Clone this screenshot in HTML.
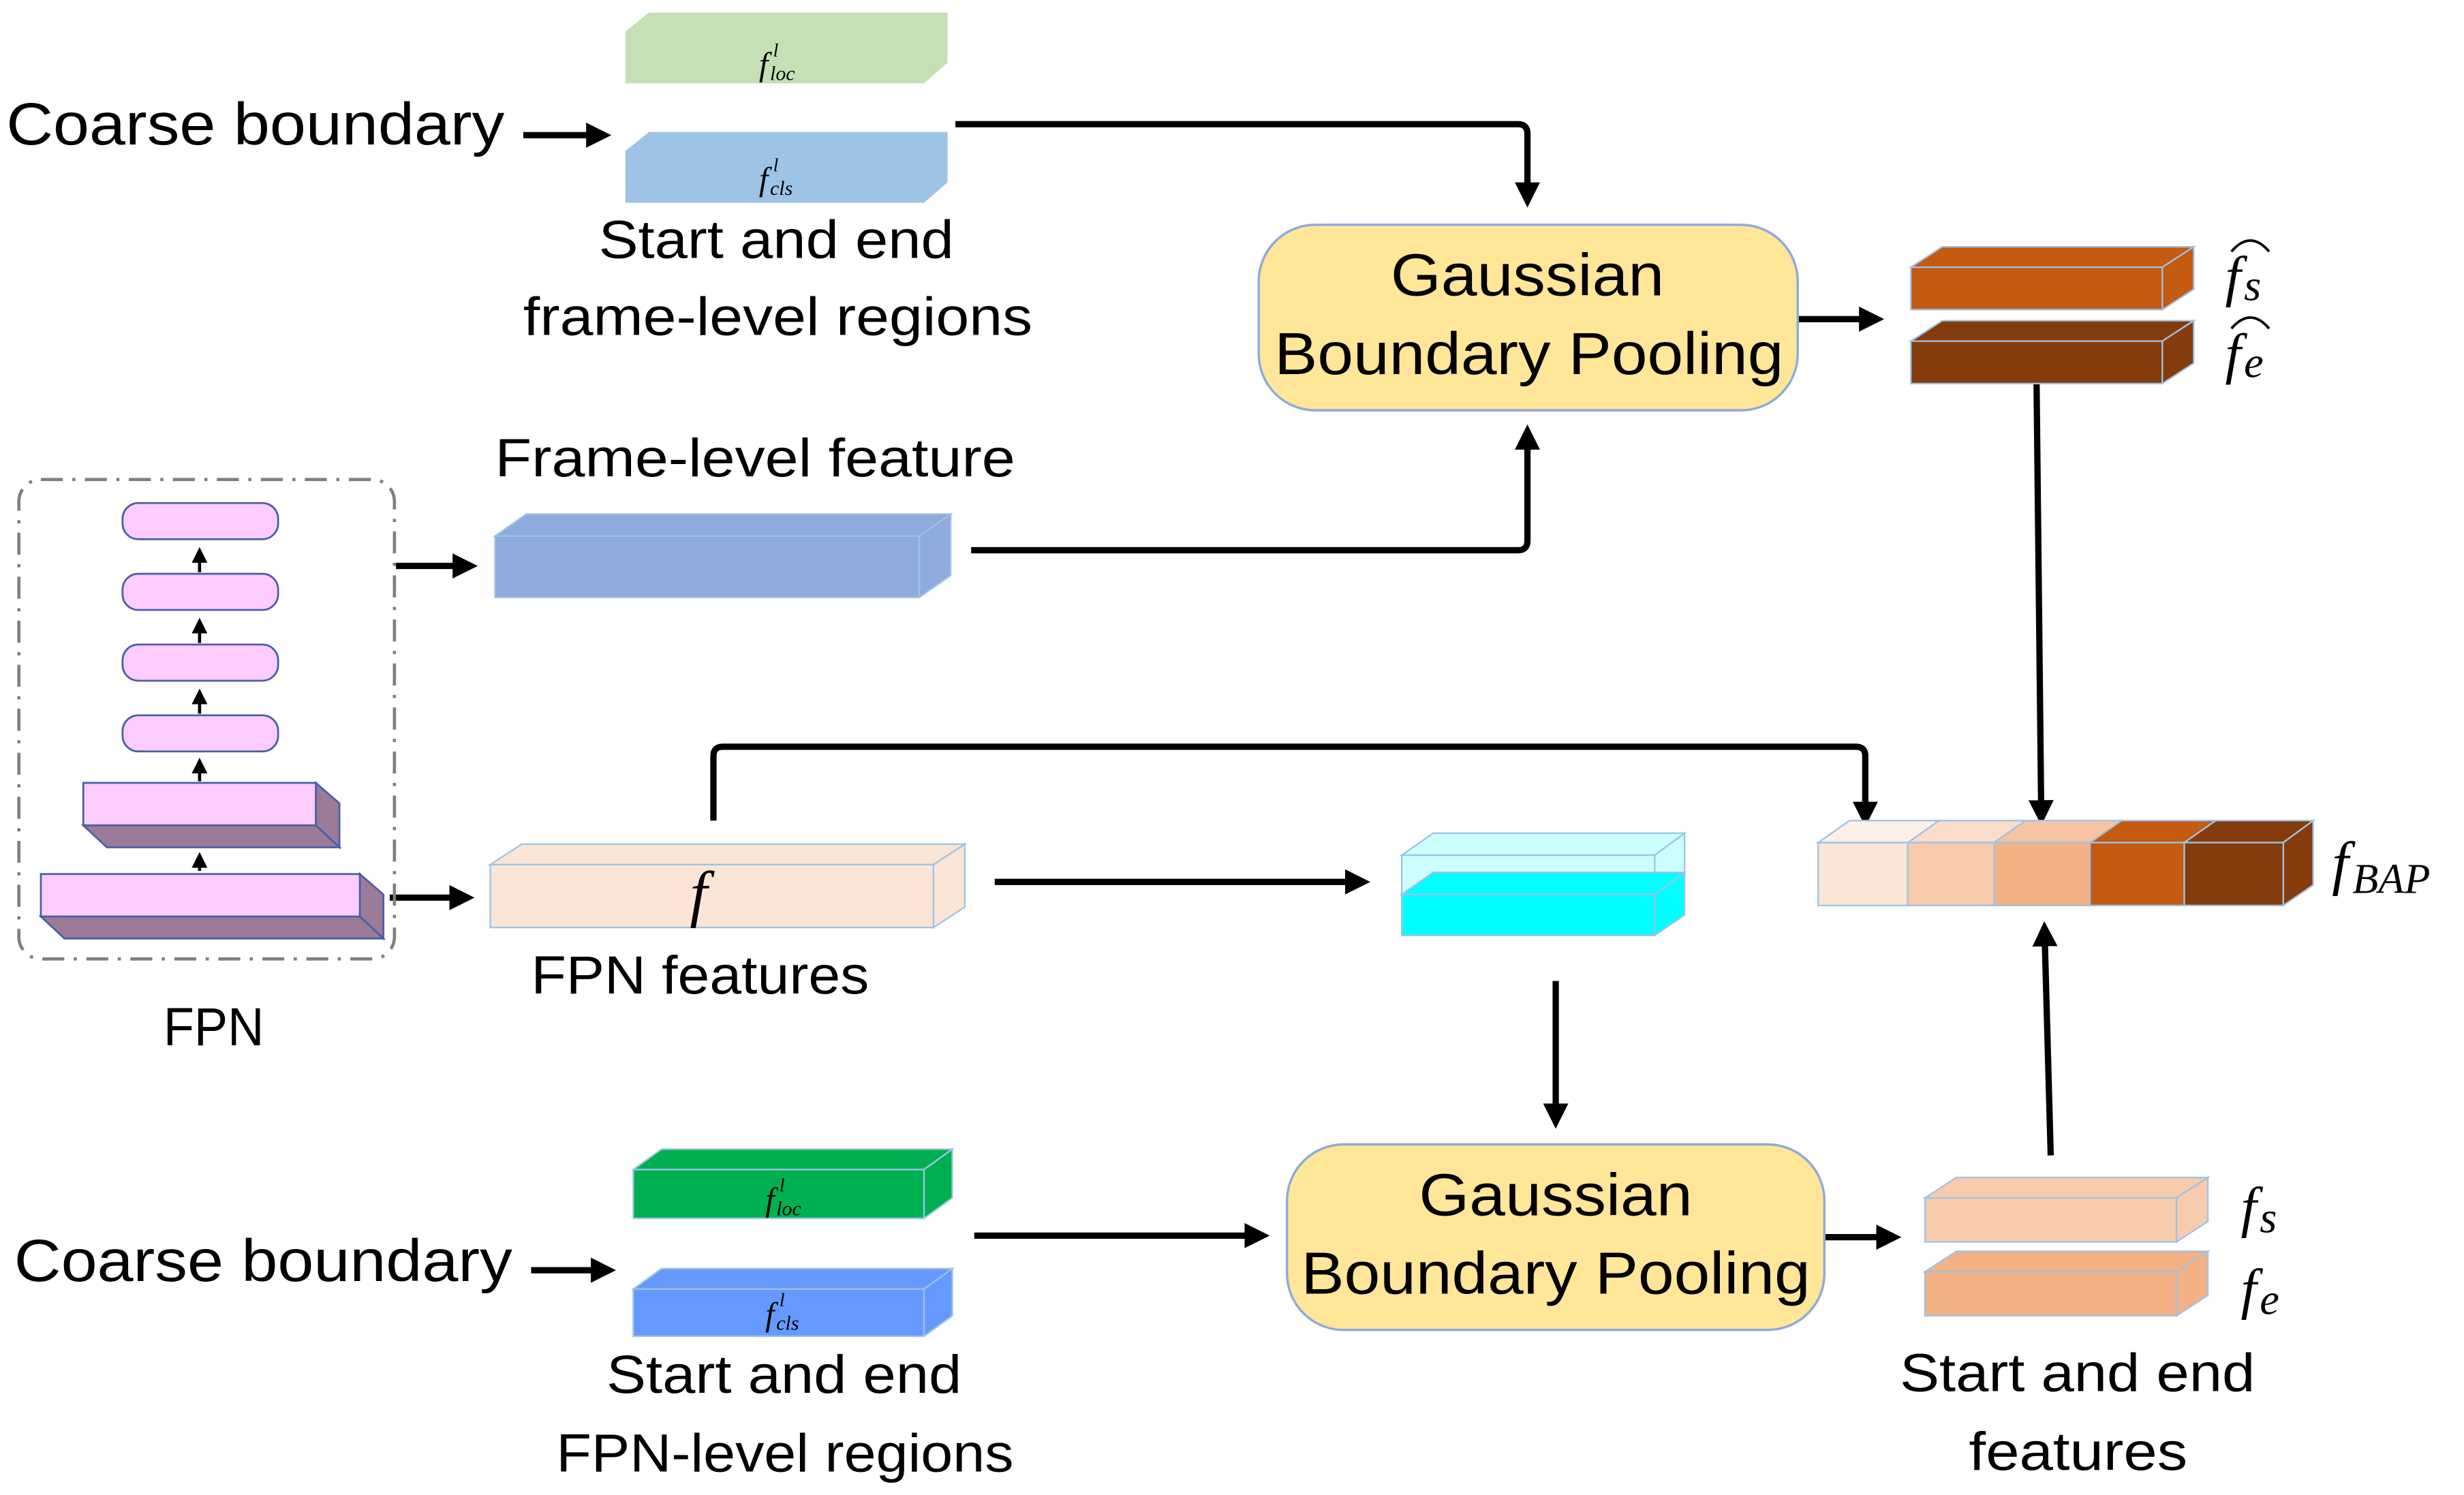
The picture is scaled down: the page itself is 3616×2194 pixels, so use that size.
<!DOCTYPE html>
<html><head><meta charset="utf-8"><style>
html,body{margin:0;padding:0;background:#fff;}
svg{display:block;}
text{font-family:"Liberation Sans",sans-serif;fill:#000;}
.c{font-family:"Liberation Sans Narrow","Liberation Sans",sans-serif;}
.m{font-family:"Liberation Serif","DejaVu Serif",serif;font-style:italic;}
</style></head><body>
<svg width="3616" height="2194" viewBox="0 0 1568 951" preserveAspectRatio="none" xmlns="http://www.w3.org/2000/svg">
<defs>
<marker id="ah" markerWidth="4" markerHeight="4" refX="3" refY="2" orient="auto" markerUnits="strokeWidth">
<path d="M0,0 L4,2 L0,4 Z" fill="#000"/>
</marker>
<marker id="as" markerWidth="5" markerHeight="5" refX="4" refY="2.5" orient="auto" markerUnits="strokeWidth">
<path d="M0,0 L5,2.5 L0,5 Z" fill="#000"/>
</marker>
</defs>
<g stroke="#000" stroke-width="4" fill="none" stroke-linejoin="round">
<line x1="333" y1="86" x2="385" y2="86" marker-end="url(#ah)"/>
<path d="M608,79 H966 Q972,79 972,85 V128" marker-end="url(#ah)"/>
<path d="M618,350 H966 Q972,350 972,344 V274" marker-end="url(#ah)"/>
<line x1="1144" y1="203" x2="1195" y2="203" marker-end="url(#ah)"/>
<line x1="1296" y1="244" x2="1299" y2="521" marker-end="url(#ah)"/>
<line x1="252" y1="360" x2="300" y2="360" marker-end="url(#ah)"/>
<line x1="248" y1="571" x2="298" y2="571" marker-end="url(#ah)"/>
<path d="M454,522 V481 Q454,475 460,475 H1181 Q1187,475 1187,481 V522" marker-end="url(#ah)"/>
<line x1="633" y1="561" x2="868" y2="561" marker-end="url(#ah)"/>
<line x1="990" y1="624" x2="990" y2="714" marker-end="url(#ah)"/>
<line x1="338" y1="808" x2="388" y2="808" marker-end="url(#ah)"/>
<path d="M620,786 H804" marker-end="url(#ah)"/>
<line x1="1161" y1="787" x2="1206" y2="787" marker-end="url(#ah)"/>
<line x1="1305" y1="735" x2="1301" y2="590" marker-end="url(#ah)"/>
</g>
<g stroke="#000" stroke-width="2" fill="none">
<line x1="127" y1="364" x2="127" y2="350" marker-end="url(#as)"/>
<line x1="127" y1="409" x2="127" y2="395" marker-end="url(#as)"/>
<line x1="127" y1="454" x2="127" y2="440" marker-end="url(#as)"/>
<line x1="127" y1="497" x2="127" y2="484" marker-end="url(#as)"/>
<line x1="127" y1="554" x2="127" y2="544" marker-end="url(#as)"/>
</g>

<polygon points="398,20 413,8 603,8 603,40 588,53 398,53" fill="#c5e0b4"/>
<polygon points="398,96 413,84 603,84 603,116 588,129 398,129" fill="#9dc3e6"/>
<text class="m" x="483" y="48" font-size="21">f</text><text class="m" x="492" y="36" font-size="12">l</text><text class="m" x="490" y="51" font-size="13">loc</text>
<text class="m" x="483" y="121" font-size="21">f</text><text class="m" x="492" y="109" font-size="12">l</text><text class="m" x="490" y="124" font-size="13">cls</text>
<text x="4" y="92" font-size="38" textLength="317" lengthAdjust="spacingAndGlyphs">Coarse boundary</text>
<text class="c" x="381" y="164" font-size="34" textLength="226" lengthAdjust="spacingAndGlyphs">Start and end</text>
<text class="c" x="333" y="213" font-size="34" textLength="324" lengthAdjust="spacingAndGlyphs">frame-level regions</text>

<rect x="801" y="143" width="343" height="118" rx="36" fill="#ffe699" stroke="#8faadc" stroke-width="1.5"/>
<text x="885" y="188" font-size="38" textLength="174" lengthAdjust="spacingAndGlyphs">Gaussian</text>
<text x="811" y="238" font-size="38" textLength="324" lengthAdjust="spacingAndGlyphs">Boundary Pooling</text>

<g stroke="#9dc3e6" stroke-width="1">
<polygon points="1216,170 1236,157 1396,157 1376,170" fill="#c55a11"/>
<polygon points="1376,170 1396,157 1396,184 1376,197" fill="#c55a11"/>
<rect x="1216" y="170" width="160" height="27" fill="#c55a11"/>
<polygon points="1216,217 1236,204 1396,204 1376,217" fill="#843c0c"/>
<polygon points="1376,217 1396,204 1396,231 1376,244" fill="#843c0c"/>
<rect x="1216" y="217" width="160" height="27" fill="#843c0c"/>
</g>
<text class="m" x="1416" y="188" font-size="36">f</text><text class="m" x="1428" y="191" font-size="28">s</text>
<path d="M1420,160 Q1432,146 1444,160" stroke="#000" stroke-width="1.6" fill="none"/>
<text class="m" x="1416" y="237" font-size="36">f</text><text class="m" x="1428" y="240" font-size="28">e</text>
<path d="M1420,209 Q1432,195 1444,209" stroke="#000" stroke-width="1.6" fill="none"/>

<text class="c" x="315" y="303" font-size="34" textLength="331" lengthAdjust="spacingAndGlyphs">Frame-level feature</text>
<g fill="#8faadc" stroke="#9dc3e6" stroke-width="1">
<polygon points="315,341 335,327 605,327 585,341"/>
<polygon points="585,341 605,327 605,366 585,380"/>
<rect x="315" y="341" width="270" height="39"/>
</g>

<rect x="12" y="305" width="239" height="305" rx="14" fill="none" stroke="#7f7f7f" stroke-width="2" stroke-dasharray="14,6,2,6"/>
<g fill="#ffccff" stroke="#4a5fa8" stroke-width="1.2">
<rect x="78" y="320" width="99" height="23" rx="10"/>
<rect x="78" y="365" width="99" height="23" rx="10"/>
<rect x="78" y="410" width="99" height="23" rx="10"/>
<rect x="78" y="455" width="99" height="23" rx="10"/>
<polygon points="53,525 201,525 216,539 68,539" fill="#9b7b98"/>
<polygon points="201,498 216,511 216,539 201,525" fill="#9b7b98"/>
<rect x="53" y="498" width="148" height="27"/>
<polygon points="26,583 229,583 244,597 41,597" fill="#9b7b98"/>
<polygon points="229,556 244,569 244,597 229,583" fill="#9b7b98"/>
<rect x="26" y="556" width="203" height="27"/>
</g>
<text class="c" x="104" y="665" font-size="34" textLength="64" lengthAdjust="spacingAndGlyphs">FPN</text>

<g fill="#fbe5d6" stroke="#9dc3e6" stroke-width="1">
<polygon points="312,550 332,537 614,537 594,550"/>
<polygon points="594,550 614,537 614,577 594,590"/>
<rect x="312" y="550" width="282" height="40"/>
</g>
<text class="m" x="439" y="582" font-size="40">f</text>
<text class="c" x="338" y="632" font-size="34" textLength="215" lengthAdjust="spacingAndGlyphs">FPN features</text>

<g stroke="#9dc3e6" stroke-width="1">
<polygon points="892,544 912,530 1072,530 1053,544" fill="#ccffff"/>
<polygon points="1053,544 1072,530 1072,556 1053,569" fill="#ccffff"/>
<rect x="892" y="544" width="161" height="25" fill="#ccffff"/>
<polygon points="892,569 912,555 1072,555 1053,569" fill="#00ffff"/>
<polygon points="1053,569 1072,555 1072,582 1053,595" fill="#00ffff"/>
<rect x="892" y="569" width="161" height="26" fill="#00ffff"/>
</g>

<g stroke="#9dc3e6" stroke-width="1">
<polygon points="1157,536 1177,522 1234,522 1214,536" fill="#fdf0e6"/>
<polygon points="1214,536 1234,522 1289,522 1269,536" fill="#fadccb"/>
<polygon points="1269,536 1289,522 1350,522 1330,536" fill="#f6c4a2"/>
<polygon points="1330,536 1350,522 1410,522 1390,536" fill="#c55a11"/>
<polygon points="1390,536 1410,522 1472,522 1453,536" fill="#843c0c"/>
<polygon points="1453,536 1472,522 1472,563 1453,576" fill="#843c0c"/>
<rect x="1157" y="536" width="57" height="40" fill="#fbe5d6"/>
<rect x="1214" y="536" width="55" height="40" fill="#f8cbad"/>
<rect x="1269" y="536" width="61" height="40" fill="#f4b183"/>
<rect x="1330" y="536" width="60" height="40" fill="#c55a11"/>
<rect x="1390" y="536" width="63" height="40" fill="#843c0c"/>
</g>
<text class="m" x="1484" y="562" font-size="38">f</text><text class="m" x="1497" y="568" font-size="27">BAP</text>

<text x="9" y="815" font-size="38" textLength="317" lengthAdjust="spacingAndGlyphs">Coarse boundary</text>
<g stroke="#9dc3e6" stroke-width="1">
<polygon points="403,744 421,731 606,731 588,744" fill="#00b050"/>
<polygon points="588,744 606,731 606,762 588,775" fill="#00b050"/>
<rect x="403" y="744" width="185" height="31" fill="#00b050"/>
<polygon points="403,820 421,807 606,807 588,820" fill="#6699ff"/>
<polygon points="588,820 606,807 606,837 588,850" fill="#6699ff"/>
<rect x="403" y="820" width="185" height="30" fill="#6699ff"/>
</g>
<text class="m" x="487" y="770" font-size="21">f</text><text class="m" x="496" y="758" font-size="12">l</text><text class="m" x="494" y="773" font-size="13">loc</text>
<text class="m" x="487" y="843" font-size="21">f</text><text class="m" x="496" y="831" font-size="12">l</text><text class="m" x="494" y="846" font-size="13">cls</text>
<text class="c" x="386" y="886" font-size="34" textLength="226" lengthAdjust="spacingAndGlyphs">Start and end</text>
<text class="c" x="354" y="936" font-size="34" textLength="291" lengthAdjust="spacingAndGlyphs">FPN-level regions</text>

<rect x="819" y="728" width="342" height="118" rx="36" fill="#ffe699" stroke="#8faadc" stroke-width="1.5"/>
<text x="903" y="773" font-size="38" textLength="174" lengthAdjust="spacingAndGlyphs">Gaussian</text>
<text x="828" y="823" font-size="38" textLength="324" lengthAdjust="spacingAndGlyphs">Boundary Pooling</text>

<g stroke="#9dc3e6" stroke-width="1">
<polygon points="1225,762 1245,749 1405,749 1385,762" fill="#f8cbad"/>
<polygon points="1385,762 1405,749 1405,777 1385,790" fill="#f8cbad"/>
<rect x="1225" y="762" width="160" height="28" fill="#f8cbad"/>
<polygon points="1225,809 1245,796 1405,796 1385,809" fill="#f4b183"/>
<polygon points="1385,809 1405,796 1405,824 1385,837" fill="#f4b183"/>
<rect x="1225" y="809" width="160" height="28" fill="#f4b183"/>
</g>
<text class="m" x="1426" y="780" font-size="36">f</text><text class="m" x="1438" y="784" font-size="28">s</text>
<text class="m" x="1426" y="832" font-size="36">f</text><text class="m" x="1438" y="836" font-size="28">e</text>
<text class="c" x="1209" y="885" font-size="34" textLength="226" lengthAdjust="spacingAndGlyphs">Start and end</text>
<text class="c" x="1253" y="935" font-size="34" textLength="139" lengthAdjust="spacingAndGlyphs">features</text>
</svg>
</body></html>
